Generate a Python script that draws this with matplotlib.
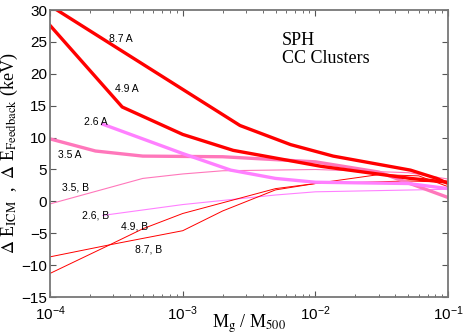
import matplotlib
matplotlib.use("Agg")
import matplotlib.pyplot as plt
from matplotlib.ticker import LogLocator, NullFormatter, MultipleLocator

plt.rcParams["mathtext.fontset"] = "stix"

# thick lines: run A, thin lines: run B
x_87a = [1e-4, 2.7e-3, 6.5e-3, 1.36e-2, 5.2e-2, 8.2e-2, 1e-1]
y_87a = [30.7, 11.9, 8.9, 7.1, 4.9, 3.6, 2.8]

x_49a = [1e-4, 3.5e-4, 1e-3, 2.4e-3, 1.1e-2, 5.2e-2, 1e-1]
y_49a = [27.6, 14.8, 10.5, 8.0, 5.5, 3.6, 3.0]

x_26a = [2.5e-4, 1e-3, 2.3e-3, 5e-3, 1e-2, 5e-2, 1e-1]
y_26a = [12.1, 7.5, 4.9, 3.6, 3.0, 2.8, 2.0]

x_35a = [1e-4, 2.2e-4, 5e-4, 2e-3, 1e-2, 3e-2, 1e-1]
y_35a = [9.8, 7.9, 7.1, 7.0, 6.2, 4.6, 0.6]

x_35b = [1e-4, 5e-4, 1e-3, 2e-3, 1e-2, 5e-2, 1e-1]
y_35b = [-0.4, 3.6, 4.3, 4.8, 5.0, 4.5, 3.5]

x_26b = [2.5e-4, 1e-3, 5e-3, 1e-2, 1e-1]
y_26b = [-2.2, -0.5, 1.0, 1.5, 1.9]

x_49b = [1e-4, 2.7e-4, 5e-4, 1e-3, 5e-3, 1e-2, 5e-2, 1e-1]
y_49b = [-11.3, -7.0, -4.3, -1.9, 2.0, 2.8, 3.2, 3.0]

x_87b = [1e-4, 3e-4, 1e-3, 2e-3, 5e-3, 1e-2, 3e-2, 6e-2, 1e-1]
y_87b = [-8.7, -6.7, -4.6, -1.5, 1.8, 2.8, 4.2, 4.0, 2.3]

red = "#ff0000"
magenta = "#ff80ff"
pink = "#ff77bb"

fig = plt.figure(figsize=(4.63, 3.36), dpi=100)
ax = fig.add_axes([0.108, 0.116, 0.860, 0.854])

ax.plot(x_35b, y_35b, color=pink, lw=0.8)
ax.plot(x_26b, y_26b, color=magenta, lw=0.8)
ax.plot(x_49b, y_49b, color=red, lw=0.7)
ax.plot(x_87b, y_87b, color=red, lw=0.7)
ax.plot(x_35a, y_35a, color=pink, lw=2.4)
ax.plot(x_26a, y_26a, color=magenta, lw=2.4)
ax.plot(x_49a, y_49a, color=red, lw=2.4)
ax.plot(x_87a, y_87a, color=red, lw=2.4)

lab = dict(fontsize=7.5, family="Liberation Sans", ha="center", va="center")
ax.text(3.4e-4, 25.5, "8.7 A", **lab)
ax.text(3.8e-4, 17.7, "4.9 A", **lab)
ax.text(2.2e-4, 12.4, "2.6 A", **lab)
ax.text(1.4e-4, 7.2, "3.5 A", **lab)
ax.text(1.55e-4, 2.2, "3.5, B", **lab)
ax.text(2.2e-4, -2.2, "2.6, B", **lab)
ax.text(4.3e-4, -3.9, "4.9, B", **lab)
ax.text(5.5e-4, -7.5, "8.7, B", **lab)

ax.text(5.6e-3, 23.8, "SPH\nCC Clusters", fontsize=13, family="Liberation Serif",
        ha="left", va="center", linespacing=1.05)

ax.set_xscale("log")
ax.set_xlim(1e-4, 1e-1)
ax.set_ylim(-15, 30)
ax.yaxis.set_major_locator(MultipleLocator(5))
ax.xaxis.set_minor_locator(LogLocator(base=10, subs=range(2, 10)))
ax.xaxis.set_minor_formatter(NullFormatter())
ax.tick_params(which="both", direction="in", top=True, right=True,
               labelsize=11, color="#555555", pad=2)
ax.tick_params(axis="x", which="major", pad=5)
ax.tick_params(which="major", length=4)
ax.tick_params(which="minor", length=2)
for lbl in ax.get_xticklabels() + ax.get_yticklabels():
    lbl.set_family("Liberation Sans")
for s in ax.spines.values():
    s.set_color("#777777")
    s.set_linewidth(1.3)

ax.set_xlabel(r"M$_{\rm g}$ / M$_{500}$", fontsize=13, family="Liberation Serif",
              labelpad=-7)
ax.set_ylabel(r"$\Delta$ E$_{\rm ICM}$  ,  $\Delta$ E$_{\rm Feedback}$ (keV)", fontsize=13,
              family="Liberation Serif", labelpad=1)

fig.savefig("out.png", dpi=100)
